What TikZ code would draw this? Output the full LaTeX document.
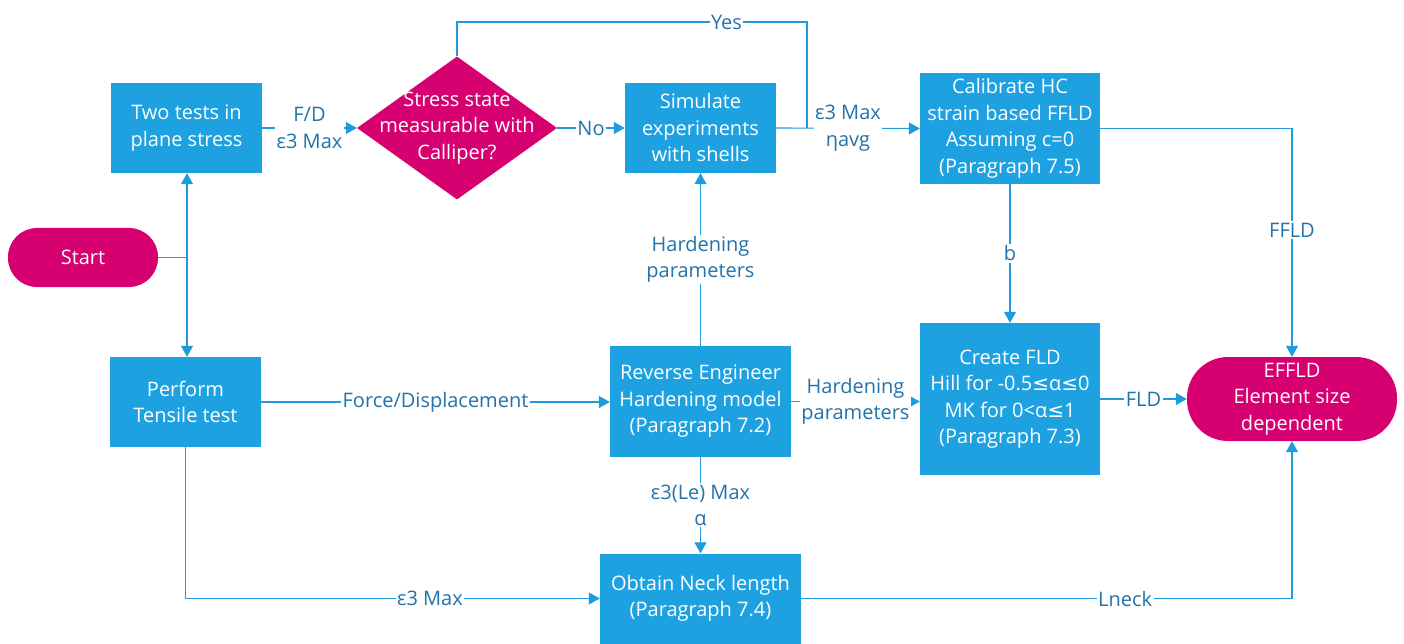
\documentclass[tikz,border=0pt]{standalone}
\usepackage{fontspec}
\setmainfont{Open Sans}
\newfontfamily\symf{DejaVu Sans}
\usetikzlibrary{shapes.geometric,arrows.meta}
\definecolor{boxblue}{RGB}{29,161,225}
\definecolor{mag}{RGB}{215,0,112}
\definecolor{lineblue}{RGB}{30,155,220}
\definecolor{lbl}{RGB}{35,115,170}
\newcommand{\lesym}{{\symf ≤}}
\begin{document}
\begin{tikzpicture}[x=1pt,y=-1pt,
  font=\fontsize{20}{26.5}\selectfont,
  box/.style={rectangle,fill=boxblue,text=white,align=center,inner sep=0pt},
  term/.style={rectangle,fill=mag,text=white,align=center,inner sep=0pt},
  conn/.style={draw=lineblue,line width=1.1pt},
  arr/.style={conn,-{Triangle[length=11pt,width=12pt]}},
  lab/.style={fill=white,text=lbl,align=center,inner sep=1.5pt}
]
\useasboundingbox (0,0) rectangle (1404,644);

% nodes
\node[term,rounded corners=29pt,minimum width=150pt,minimum height=59pt] (start) at (83,257.5) {Start};
\node[box,minimum width=151pt,minimum height=90pt] (two) at (186.5,128) {Two tests in\\plane stress};
\node[box,minimum width=151pt,minimum height=90pt] (perf) at (185.5,402) {Perform\\Tensile test};
\node[diamond,fill=mag,minimum width=200pt,minimum height=143pt,inner sep=0pt] (dia) at (457,128) {};
\node[text=white,align=center] (diatext) at (dia.center) {Stress state\\measurable with\\Calliper?};
\node[box,minimum width=151pt,minimum height=90pt] (sim) at (700.5,128) {Simulate\\experiments\\with shells};
\node[box,minimum width=180pt,minimum height=111pt] (cal) at (1010,128.5) {Calibrate HC\\strain based FFLD\\Assuming c=0\\(Paragraph 7.5)};
\node[box,minimum width=180pt,minimum height=152pt] (cre) at (1010,399) {Create FLD\\Hill for -0.5\lesym α\lesym 0\\MK for 0<α\lesym 1\\(Paragraph 7.3)};
\node[term,rounded corners=41pt,minimum width=210pt,minimum height=84pt] (eff) at (1292,399) {EFFLD\\Element size\\dependent};
\node[box,minimum width=181pt,minimum height=111pt] (rev) at (700.5,401.5) {Reverse Engineer\\Hardening model\\(Paragraph 7.2)};
\node[box,minimum width=201pt,minimum height=90pt] (obt) at (700.5,598.5) {Obtain Neck length\\(Paragraph 7.4)};

% helper coordinates
\coordinate (j1) at (187,257.5);
\coordinate (yesL) at (457,22);
\coordinate (yesR) at (807,22);
\coordinate (yesJ) at (807,128);

% connectors
\draw[conn] (start.east) -- (j1);
\draw[arr] (j1) -- (j1 |- two.south);
\draw[arr] (j1) -- (j1 |- perf.north);
\draw[arr] (two.east) -- node[lab]{F/D\\ε3 Max} (dia.west);
\draw[arr] (dia.east) -- node[lab]{No} (sim.west);
\draw[conn] (dia.north) -- (yesL) -- node[lab,pos=0.77]{Yes} (yesR) -- (yesJ);
\draw[arr] (sim.east) -- node[lab]{ε3 Max\\ηavg} (cal.west);
\draw[arr] (cal.east) -- (cal.east -| eff.north) -- node[lab,pos=0.445]{FFLD} (eff.north);
\draw[arr] (cal.south) -- node[lab]{b} (cre.north);
\draw[arr] (cre.east) -- node[lab]{FLD} (eff.west);
\draw[arr] (perf.east) -- node[lab]{Force/Displacement} (perf.east -| rev.west);
\draw[arr] (rev.north) -- node[lab]{Hardening\\parameters} (sim.south);
\draw[arr] (rev.east) -- node[lab]{Hardening\\parameters} (rev.east -| cre.west);
\draw[arr] (rev.south) -- node[lab]{ε3(Le) Max\\α} (obt.north);
\draw[arr] (perf.south) -- (perf.south |- obt.west) -- node[lab,pos=0.59]{ε3 Max} (obt.west);
\draw[arr] (obt.east) -- node[lab,pos=0.66]{Lneck} (obt.east -| eff.south) -- (eff.south);
\end{tikzpicture}
\end{document}
